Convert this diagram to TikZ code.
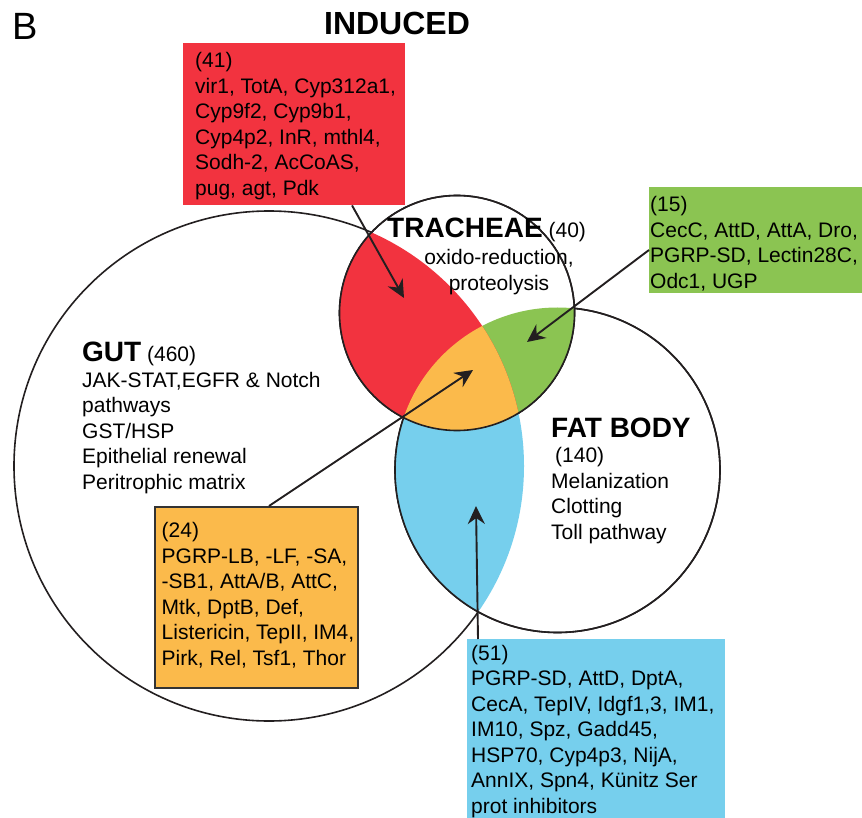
\documentclass[tikz,border=0pt]{standalone}
\usepackage{fontspec}
\setmainfont{Liberation Sans}
\usetikzlibrary{arrows.meta,calc}
\definecolor{ink}{HTML}{231F20}
\definecolor{tracred}{HTML}{F2333F}
\definecolor{tracgreen}{HTML}{8BC452}
\definecolor{coreorange}{HTML}{FBBA4B}
\definecolor{fatblue}{HTML}{76CFED}
\definecolor{boxedge}{HTML}{333333}
\newcommand{\genesize}{\fontsize{21}{25.5}\selectfont}
\newcommand{\tissue}[1]{{\bfseries\fontsize{28}{25.5}\selectfont #1}}

\begin{document}
\begin{tikzpicture}[x=1pt,y=-1pt,>=Stealth,
    ring/.style={draw=ink,line width=1.6pt},
    genebox/.style={anchor=north west,inner sep=0pt},
    genetext/.style={anchor=north west,inner sep=0pt,align=left,font=\genesize},
    pointer/.style={draw=ink,line width=1.9pt,-{Stealth[length=18pt,width=17pt,inset=6pt]}}]
  \useasboundingbox (0,0) rectangle (862,818);
  \clip (0,0) rectangle (862,818);

  \coordinate (gutc) at (269,466);
  \coordinate (trac) at (457,313);
  \coordinate (fatc) at (557.5,470);

  % the three tissues, white inside so later circles hide the lines below them
  \draw[ring,fill=white] (gutc) circle[radius=255pt];
  \draw[ring,fill=white] (fatc) circle[radius=162.5pt];
  \draw[ring,fill=white] (trac) circle[radius=117.5pt];

  \begin{scope}
    \clip (gutc) circle[radius=255pt];
    \fill[fatblue] (fatc) circle[radius=162.5pt];
  \end{scope}
  \begin{scope}
    \clip (trac) circle[radius=117.5pt];
    \fill[tracgreen] (fatc) circle[radius=162.5pt];
    \fill[tracred] (gutc) circle[radius=255pt];
    \clip (gutc) circle[radius=255pt];
    \fill[coreorange] (fatc) circle[radius=162.5pt];
  \end{scope}

  % outlines again on top of the fills
  \begin{scope}[even odd rule]
    \clip (0,0) rectangle (862,818) (trac) circle[radius=117.5pt];
    \draw[ring] (fatc) circle[radius=162.5pt];
  \end{scope}
  \draw[ring] (trac) circle[radius=117.5pt];

  \node[anchor=base west,inner sep=0pt,font=\fontsize{38}{40}\selectfont] (panel) at (12,40) {B};
  \node[anchor=base,inner sep=0pt,font=\bfseries\fontsize{32}{36}\selectfont] (title) at (397,35) {INDUCED};

  \node[anchor=base west,inner sep=0pt,font=\genesize] (tralab) at (387,238) {\tissue{TRACHEAE} (40)};
  \node[anchor=north,inner sep=0pt,align=center,font=\genesize] (trafun) at (499,249.5)
    {oxido-reduction,\\proteolysis};
  \node[genetext] (gutlab) at (82,342)
    {\tissue{GUT} (460)\\JAK-STAT,EGFR \& Notch\\pathways\\GST/HSP\\Epithelial renewal\\Peritrophic matrix};
  \node[genetext] (fatlab) at (551,417.5)
    {\tissue{FAT BODY}\\\hspace*{4pt}(140)\\Melanization\\Clotting\\Toll pathway};

  \node[genebox,fill=tracred,minimum width=222pt,minimum height=162pt] (redbox) at (183,43) {};
  \node[genebox,fill=tracgreen,minimum width=221pt,minimum height=106pt] (greenbox) at (649,187) {};
  \node[genebox,fill=coreorange,draw=boxedge,line width=2pt,minimum width=203pt,minimum height=181pt] (orangebox) at (154,506) {};
  \node[genebox,fill=fatblue,minimum width=258pt,minimum height=185pt] (bluebox) at (467,639) {};

  \node[genetext] (redgenes) at (195,52.3)
    {(41)\\vir1, TotA, Cyp312a1,\\Cyp9f2, Cyp9b1,\\Cyp4p2, InR, mthl4,\\Sodh-2, AcCoAS,\\pug, agt, Pdk};
  \node[genetext] (greengenes) at (650,196.5)
    {(15)\\CecC, AttD, AttA, Dro,\\PGRP-SD, Lectin28C,\\Odc1, UGP};
  \node[genetext] (orangegenes) at (161.5,522.5)
    {(24)\\PGRP-LB, -LF, -SA,\\-SB1, AttA/B, AttC,\\Mtk, DptB, Def,\\Listericin, TepII, IM4,\\Pirk, Rel, Tsf1, Thor};
  \node[genetext] (bluegenes) at (471,645)
    {(51)\\PGRP-SD, AttD, DptA,\\CecA, TepIV, Idgf1,3, IM1,\\IM10, Spz, Gadd45,\\HSP70, Cyp4p3, NijA,\\AnnIX, Spn4, Künitz Ser\\prot inhibitors};

  \coordinate (redtip) at (404,298);
  \coordinate (greentip) at (527,342);
  \coordinate (orangetip) at (473,370);
  \coordinate (bluetip) at (476,506);
  \draw[pointer] ([xshift=169pt]redbox.south west) -- (redtip);
  \draw[pointer] ([yshift=-63pt]greenbox.north west) -- (greentip);
  \draw[pointer] ([xshift=115pt]orangebox.north west) -- (orangetip);
  \draw[pointer] ([xshift=11pt]bluebox.north west) -- (bluetip);
\end{tikzpicture}
\end{document}
